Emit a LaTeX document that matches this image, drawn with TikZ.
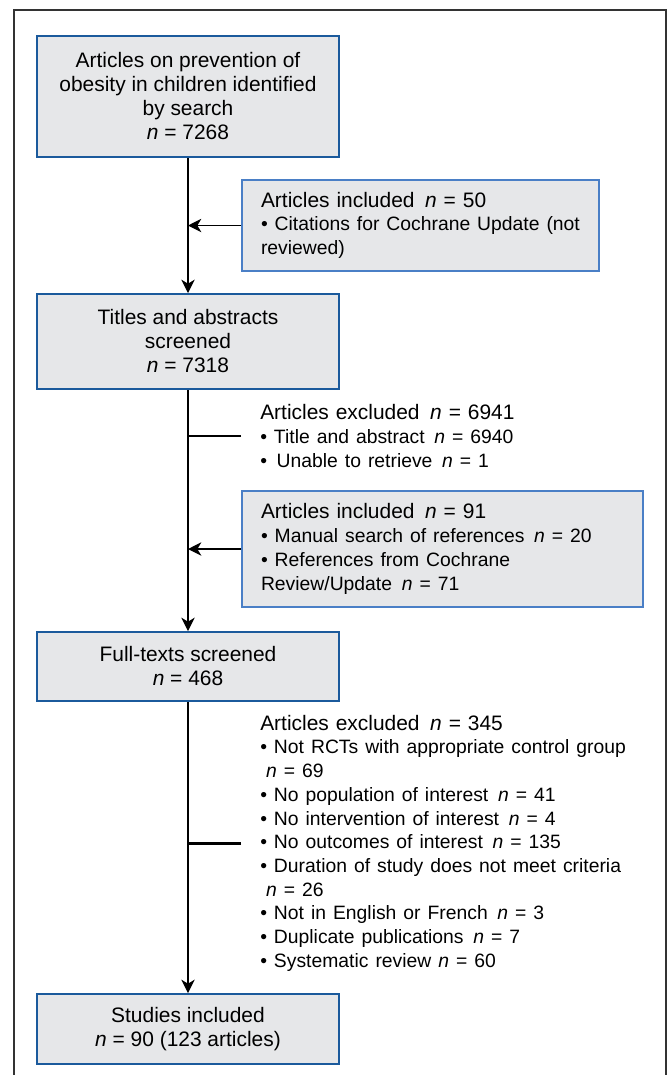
\documentclass[tikz,border=0pt]{standalone}
\usepackage{fontspec}
\setmainfont{Liberation Sans}
\usetikzlibrary{arrows.meta, positioning, calc}

\definecolor{boxgray}{HTML}{E6E7E9}
\definecolor{stageblue}{HTML}{1B5A9C}
\definecolor{addblue}{HTML}{4A7FC6}
\newcommand{\nval}[1]{\textit{n} = #1}
\newcommand{\detail}{\fontsize{14.5}{17.8}\selectfont}

\begin{document}
\begin{tikzpicture}[
      font=\fontsize{15.7}{18}\selectfont,
      stage/.style={rectangle, draw=stageblue, line width=1.5pt, fill=boxgray, minimum width=226.5pt, align=center, inner sep=0pt},
      added/.style={rectangle, draw=addblue, line width=1.5pt, fill=boxgray, align=left, inner xsep=14.25pt, inner ysep=0pt},
      note/.style={align=left, text width=300pt, inner xsep=14.25pt, inner ysep=0pt},
      flow/.style={-{Stealth[length=10pt, width=10pt, inset=3pt]}, line width=1pt},
      bar/.style={line width=2pt}
    ]

    \useasboundingbox (0,0) rectangle (501pt,-806.25pt);
    \draw[line width=1.1pt, black!80] (10.5pt,-806.25pt) |- (499.5pt,-7.5pt) -- (499.5pt,-806.25pt);

    % main column
    \node[stage, minimum height=90.75pt, anchor=north] (search) at (141pt,-26.25pt) {Articles on prevention of\\obesity in children identified\\by search\\\nval{7268}};
    \node[stage, minimum height=71.25pt, below=101.25pt of search] (titles) {Titles and abstracts\\screened\\\nval{7318}};
    \node[stage, minimum height=51.75pt, below=180.75pt of titles] (full) {Full-texts screened\\\nval{468}};
    \node[stage, minimum height=52.5pt, below=218.25pt of full] (studies) {Studies included\\\nval{90} (123 articles)};

    % side boxes and notes
    \node[added, text width=239.25pt, minimum height=68.25pt, below right=15.75pt and 39.75pt of search.south] (cochrane) {Articles included\enspace\nval{50}\\\detail\textbullet\ Citations for Cochrane Update (not\\reviewed)};
    \node[note, right=39.75pt of titles.south, yshift=-34.5pt] (screenex) {Articles excluded\enspace\nval{6941}\\\detail\textbullet\ Title and abstract\enspace\nval{6940}\\\textbullet\enspace Unable to retrieve\enspace\nval{1}};
    \node[added, text width=272.25pt, minimum height=87pt, below right=75pt and 39.75pt of titles.south] (manual) {Articles included\enspace\nval{91}\\\detail\textbullet\ Manual search of references\enspace\nval{20}\\\textbullet\ References from Cochrane\\Review/Update\enspace\nval{71}};
    \node[note, right=39.75pt of full.south, yshift=-106pt] (fullex) {Articles excluded\enspace\nval{345}\\\detail\textbullet\ Not RCTs with appropriate control group\\\hspace*{0.3em}\nval{69}\\\textbullet\ No population of interest\enspace\nval{41}\\\textbullet\ No intervention of interest\enspace\nval{4}\\\textbullet\ No outcomes of interest\enspace\nval{135}\\\textbullet\ Duration of study does not meet criteria\\\hspace*{0.3em}\nval{26}\\\textbullet\ Not in English or French\enspace\nval{3}\\\textbullet\ Duplicate publications\enspace\nval{7}\\\textbullet\ Systematic review \nval{60}};

    \draw[flow] (search) -- (titles);
    \draw[flow] (titles) -- (full);
    \draw[flow] (full) -- (studies);
    \draw[flow] (cochrane.west) -- (cochrane.west -| search.south);
    \draw[flow] (manual.west) -- (manual.west -| titles.south);
    \draw[bar] (screenex.west) -- (screenex.west -| titles.south);
    \draw[bar] (fullex.west) -- (fullex.west -| full.south);
  \end{tikzpicture}
\end{document}
